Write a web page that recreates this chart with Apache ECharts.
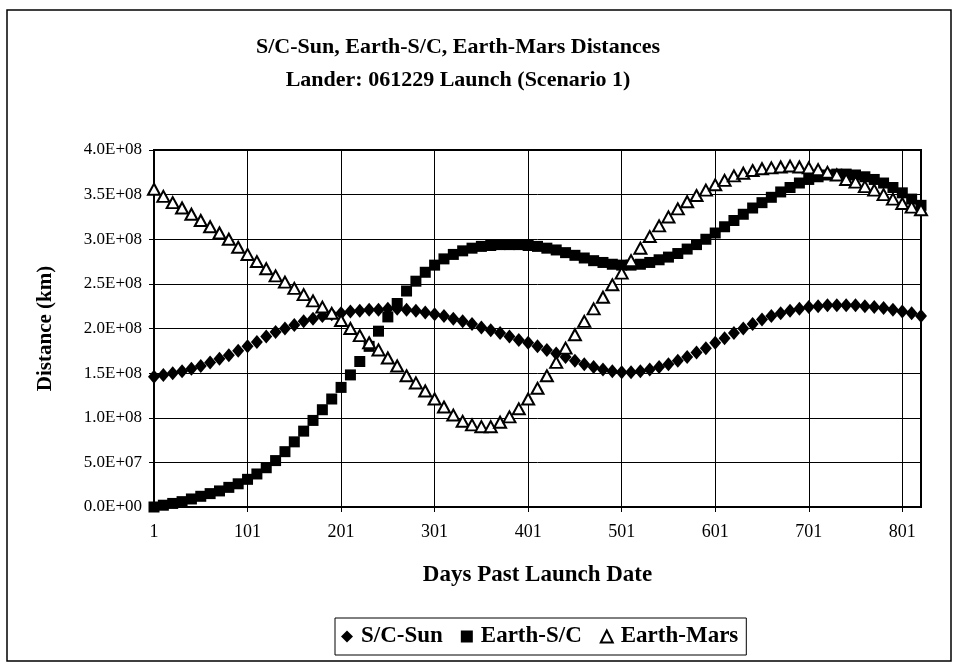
<!DOCTYPE html>
<html>
<head>
<meta charset="utf-8">
<script src="https://cdn.jsdelivr.net/npm/echarts@6/dist/echarts.min.js"></script>
<style>html,body{margin:0;padding:0;background:#fff;}#c{width:954px;height:664px;}</style>
</head>
<body>
<div id="c"></div>
<script>
var days = [1,11,21,31,41,51,61,71,81,91,101,111,121,131,141,151,161,171,181,191,201,211,221,231,241,251,261,271,281,291,301,311,321,331,341,351,361,371,381,391,401,411,421,431,441,451,461,471,481,491,501,511,521,531,541,551,561,571,581,591,601,611,621,631,641,651,661,671,681,691,701,711,721,731,741,751,761,771,781,791,801,811,821];

var scSun = [1.46e8,1.48e8,1.50e8,1.52e8,1.55e8,1.58e8,1.62e8,1.66e8,1.70e8,1.75e8,1.80e8,1.85e8,1.91e8,1.96e8,2.00e8,2.04e8,2.08e8,2.11e8,2.14e8,2.16e8,2.17e8,2.19e8,2.20e8,2.21e8,2.21e8,2.22e8,2.22e8,2.21e8,2.20e8,2.18e8,2.16e8,2.14e8,2.11e8,2.08e8,2.05e8,2.01e8,1.98e8,1.95e8,1.91e8,1.87e8,1.84e8,1.80e8,1.76e8,1.72e8,1.68e8,1.64e8,1.60e8,1.57e8,1.54e8,1.52e8,1.51e8,1.51e8,1.52e8,1.54e8,1.57e8,1.60e8,1.64e8,1.68e8,1.73e8,1.78e8,1.84e8,1.89e8,1.95e8,2.00e8,2.05e8,2.10e8,2.14e8,2.17e8,2.20e8,2.22e8,2.24e8,2.25e8,2.26e8,2.26e8,2.26e8,2.26e8,2.25e8,2.24e8,2.23e8,2.21e8,2.19e8,2.17e8,2.14e8];

var earthSC = [0.00e8,0.02e8,0.04e8,0.06e8,0.09e8,0.12e8,0.15e8,0.18e8,0.22e8,0.26e8,0.31e8,0.37e8,0.44e8,0.52e8,0.62e8,0.73e8,0.85e8,0.97e8,1.09e8,1.21e8,1.34e8,1.48e8,1.63e8,1.80e8,1.97e8,2.13e8,2.28e8,2.42e8,2.53e8,2.63e8,2.71e8,2.78e8,2.83e8,2.87e8,2.90e8,2.92e8,2.93e8,2.94e8,2.94e8,2.94e8,2.93e8,2.92e8,2.90e8,2.88e8,2.85e8,2.82e8,2.79e8,2.76e8,2.74e8,2.72e8,2.71e8,2.71e8,2.72e8,2.74e8,2.77e8,2.80e8,2.84e8,2.89e8,2.94e8,3.00e8,3.07e8,3.14e8,3.21e8,3.28e8,3.35e8,3.41e8,3.47e8,3.53e8,3.58e8,3.63e8,3.67e8,3.70e8,3.72e8,3.73e8,3.73e8,3.72e8,3.70e8,3.67e8,3.63e8,3.58e8,3.52e8,3.45e8,3.38e8];

var earthMars = [3.56e8,3.48e8,3.41e8,3.35e8,3.28e8,3.21e8,3.14e8,3.07e8,3.00e8,2.91e8,2.83e8,2.75e8,2.67e8,2.59e8,2.52e8,2.45e8,2.38e8,2.31e8,2.24e8,2.17e8,2.09e8,2.00e8,1.92e8,1.84e8,1.76e8,1.67e8,1.58e8,1.47e8,1.39e8,1.30e8,1.21e8,1.12e8,1.03e8,0.96e8,0.92e8,0.90e8,0.90e8,0.95e8,1.01e8,1.10e8,1.21e8,1.33e8,1.47e8,1.62e8,1.78e8,1.93e8,2.08e8,2.22e8,2.35e8,2.49e8,2.62e8,2.76e8,2.90e8,3.03e8,3.15e8,3.25e8,3.34e8,3.42e8,3.49e8,3.55e8,3.61e8,3.66e8,3.71e8,3.74e8,3.77e8,3.79e8,3.80e8,3.81e8,3.82e8,3.81e8,3.80e8,3.78e8,3.75e8,3.72e8,3.67e8,3.64e8,3.59e8,3.55e8,3.50e8,3.45e8,3.40e8,3.36e8,3.33e8];

var titleLines = ['S/C-Sun, Earth-S/C, Earth-Mars Distances', 'Lander: 061229 Launch (Scenario 1)'];
var seriesNames = ['S/C-Sun', 'Earth-S/C', 'Earth-Mars'];

var FONT = '"Liberation Serif", "Times New Roman", serif';

function sci(v) {
  if (v === 0) return '0.0E+00';
  var p = v.toExponential(1).split('e');
  var e = parseInt(p[1], 10);
  var a = Math.abs(e);
  return p[0] + 'E' + (e < 0 ? '-' : '+') + (a < 10 ? '0' : '') + a;
}

var chart = echarts.init(document.getElementById('c'), null, {renderer: 'canvas'});
chart.setOption({
  backgroundColor: '#fff',
  animation: false,
  title: {
    text: titleLines.join('\n'),
    left: 453,
    top: 26,
    textAlign: 'center',
    textStyle: {fontFamily: FONT, fontWeight: 'bold', fontSize: 22, lineHeight: 33, color: '#000'}
  },
  graphic: [{
    type: 'rect',
    shape: {x: 7, y: 10, width: 944, height: 651},
    style: {fill: 'none', stroke: '#000', lineWidth: 1.5},
    silent: true,
    z: -10
  }],
  legend: {
    data: seriesNames,
    left: 335,
    top: 618,
    padding: [7, 8, 7, 6],
    itemGap: 18,
    itemWidth: 12,
    itemHeight: 12,
    borderColor: '#000',
    borderWidth: 1,
    textStyle: {fontFamily: FONT, fontWeight: 'bold', fontSize: 23, color: '#000', padding: [0, 0, 0, 3]}
  },
  grid: {
    left: 154, right: 33, top: 150, bottom: 157,
    show: true, borderColor: '#000', borderWidth: 2, backgroundColor: 'transparent'
  },
  xAxis: {
    type: 'category',
    data: days,
    boundaryGap: false,
    name: 'Days Past Launch Date',
    nameLocation: 'middle',
    nameGap: 57,
    nameTextStyle: {fontFamily: FONT, fontWeight: 'bold', fontSize: 23, color: '#000'},
    axisLine: {lineStyle: {color: '#000', width: 2}},
    axisTick: {show: true, interval: 9, length: 5, lineStyle: {color: '#000'}},
    axisLabel: {interval: 9, margin: 16, fontFamily: FONT, fontSize: 18, color: '#000'},
    splitLine: {show: true, interval: 9, lineStyle: {color: '#000', width: 1}}
  },
  yAxis: {
    type: 'value',
    min: 0, max: 4e8, interval: 5e7,
    name: 'Distance (km)',
    nameLocation: 'middle',
    nameGap: 98,
    nameTextStyle: {fontFamily: FONT, fontWeight: 'bold', fontSize: 21, color: '#000'},
    axisLine: {show: true, lineStyle: {color: '#000', width: 2}},
    axisTick: {show: true, length: 5, lineStyle: {color: '#000'}},
    axisLabel: {margin: 12, formatter: sci, fontFamily: FONT, fontSize: 17, color: '#000'},
    splitLine: {show: true, lineStyle: {color: '#000', width: 1}}
  },
  series: [
    {
      name: seriesNames[0], type: 'scatter', data: scSun,
      symbol: 'diamond', symbolSize: [12, 14],
      itemStyle: {color: '#000', opacity: 1}
    },
    {
      name: seriesNames[1], type: 'scatter', data: earthSC,
      symbol: 'rect', symbolSize: [11, 11],
      itemStyle: {color: '#000', opacity: 1}
    },
    {
      name: seriesNames[2], type: 'scatter', data: earthMars,
      symbol: 'triangle', symbolSize: [12, 11],
      itemStyle: {color: '#fff', borderColor: '#000', borderWidth: 2, opacity: 1}
    }
  ]
});
</script>
</body>
</html>
